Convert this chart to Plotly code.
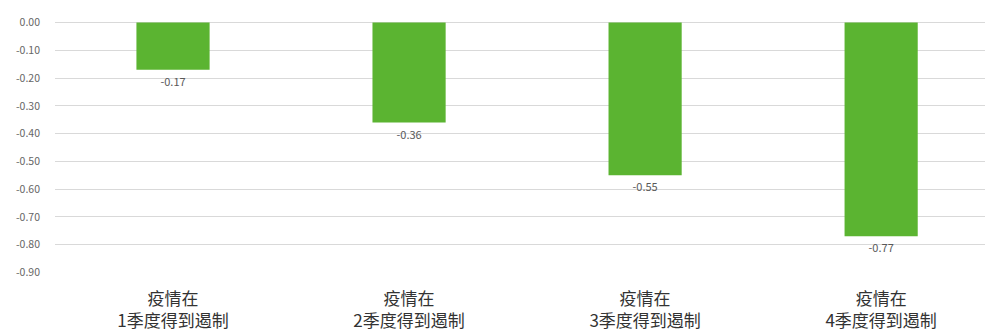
import plotly.graph_objects as go

categories = ["疫情在<br>1季度得到遏制", "疫情在<br>2季度得到遏制", "疫情在<br>3季度得到遏制", "疫情在<br>4季度得到遏制"]
values = [-0.17, -0.36, -0.55, -0.77]
tick_vals = [0, -0.1, -0.2, -0.3, -0.4, -0.5, -0.6, -0.7, -0.8, -0.9]

fig = go.Figure()
fig.add_trace(go.Bar(
    x=list(range(len(categories))), y=values,
    width=0.31,
    marker=dict(color="#5BB431", line=dict(width=0)),
    text=[f"{v:.2f}" for v in values],
    textposition="outside",
    textfont=dict(size=11, color="#595959", family="Noto Sans CJK SC"),
    cliponaxis=False,
))
fig.update_layout(
    width=987, height=333,
    margin=dict(l=55, r=2, t=22, b=60),
    plot_bgcolor="white", paper_bgcolor="white",
    showlegend=False,
    font=dict(family="Noto Sans CJK SC", color="#333333"),
    xaxis=dict(
        tickmode="array", tickvals=list(range(len(categories))), ticktext=categories,
        range=[-0.5, 3.44], showgrid=False, zeroline=False, showline=False,
        tickfont=dict(size=17, color="#333333"),
        ticklabelstandoff=14,
    ),
    yaxis=dict(
        range=[-0.902, 0.002], tickmode="array", tickvals=tick_vals,
        ticktext=[f"{v:.2f}" for v in tick_vals],
        showgrid=True, gridcolor="#D9D9D9", gridwidth=1,
        zeroline=True, zerolinecolor="#D9D9D9", zerolinewidth=1,
        tickfont=dict(size=10.5, color="#666666"),
        ticklabelstandoff=14,
    ),
)
fig.write_html("out.html")
